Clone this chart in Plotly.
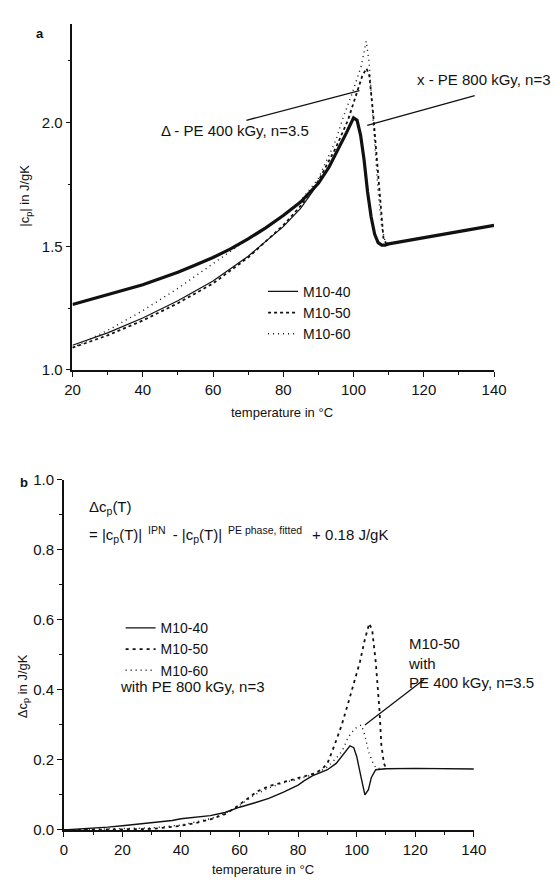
import plotly.graph_objects as go

W, H = 560, 888

def px(x):
    return x / W

def py(y):
    return 1 - y / H

# ---------------- panel a data ----------------
t_a40 = [20, 25, 30, 35, 40, 45, 50, 55, 60, 65, 70, 75, 80, 85, 90, 93, 96, 98, 100, 101, 102, 103,
         104, 105, 106, 107, 108, 109, 110, 115, 120, 125, 130, 135, 140]
cp_a40 = [1.265, 1.285, 1.305, 1.325, 1.345, 1.37, 1.395, 1.425, 1.455, 1.49, 1.53, 1.575, 1.625, 1.68,
          1.755, 1.82, 1.90, 1.96, 2.02, 2.01, 1.95, 1.85, 1.72, 1.62, 1.55, 1.515, 1.505, 1.505, 1.51,
          1.522, 1.535, 1.548, 1.56, 1.572, 1.585]

t_afit = [20, 30, 40, 50, 60, 70, 80, 85, 90]
cp_afit = [1.10, 1.15, 1.21, 1.28, 1.36, 1.46, 1.58, 1.655, 1.755]

t_a50 = [20, 30, 40, 50, 60, 70, 80, 85, 90, 95, 98.4, 101, 102.5, 103.7, 104.5, 105.5, 106.6, 107.7,
         108.5, 109.5, 110]
cp_a50 = [1.09, 1.14, 1.20, 1.27, 1.35, 1.455, 1.585, 1.665, 1.765, 1.90, 2.01, 2.13, 2.19, 2.22, 2.19,
          2.05, 1.85, 1.65, 1.535, 1.505, 1.51]

t_a60 = [20, 30, 40, 50, 60, 70, 80, 85, 90, 95, 97, 99.5, 102.2, 103.6, 104.4, 105, 106, 107, 108,
         109, 110]
cp_a60 = [1.09, 1.16, 1.24, 1.33, 1.43, 1.53, 1.625, 1.685, 1.775, 1.93, 2.02, 2.115, 2.23, 2.33, 2.25,
          2.12, 1.90, 1.72, 1.58, 1.52, 1.51]

# ---------------- panel b data ----------------
t_b40 = [0, 5, 10, 15, 20, 25, 30, 37, 40, 45, 50, 55, 60, 65, 70, 75, 80, 82, 85, 88, 90, 93, 95, 97.7,
         99, 100, 101.5, 102.8, 104, 105, 106.5, 110, 120, 130, 140]
dcp_b40 = [0, 0.002, 0.004, 0.008, 0.012, 0.016, 0.02, 0.027, 0.032, 0.036, 0.041, 0.05, 0.065, 0.077,
           0.09, 0.108, 0.128, 0.14, 0.155, 0.165, 0.172, 0.19, 0.21, 0.24, 0.235, 0.21, 0.15, 0.10,
           0.115, 0.15, 0.172, 0.175, 0.176, 0.175, 0.174]

t_b50 = [0, 10, 20, 30, 40, 45, 50, 55, 58, 62, 66, 70, 75, 80, 85, 88, 90, 92.1, 94.9, 97.7, 99.5,
         101.1, 102.8, 104.3, 105.3, 106.5, 107.8, 108.4, 109.3, 110]
dcp_b50 = [0.0, 0.0, 0.002, 0.003, 0.012, 0.02, 0.03, 0.045, 0.06, 0.085, 0.11, 0.125, 0.137, 0.147,
           0.16, 0.172, 0.19, 0.235, 0.30, 0.38, 0.43, 0.48, 0.545, 0.59, 0.57, 0.48, 0.34, 0.244, 0.19,
           0.176]

t_b60 = [0, 10, 20, 30, 40, 50, 55, 60, 65, 70, 75, 80, 85, 88, 90, 93, 95, 97.1, 99.4, 101.6, 102.8,
         104, 105.6, 106.7, 110]
dcp_b60 = [0, 0.001, 0.004, 0.006, 0.014, 0.032, 0.047, 0.07, 0.1, 0.12, 0.135, 0.145, 0.158, 0.17,
           0.18, 0.205, 0.225, 0.265, 0.29, 0.30, 0.27, 0.225, 0.19, 0.176, 0.175]

FONT = "Liberation Sans, Arial, sans-serif"
INK = "#111111"
TXT = 15

fig = go.Figure()

# panel a traces
fig.add_trace(go.Scatter(x=t_a40, y=cp_a40, mode="lines", name="M10-40", showlegend=False,
                         line=dict(color=INK, width=3.2), xaxis="x", yaxis="y"))
fig.add_trace(go.Scatter(x=t_afit, y=cp_afit, mode="lines", name="M10-40", legend="legend",
                         line=dict(color=INK, width=1.2), xaxis="x", yaxis="y"))
fig.add_trace(go.Scatter(x=t_a50, y=cp_a50, mode="lines", name="M10-50", legend="legend",
                         line=dict(color=INK, width=1.8, dash="3px,3px"), xaxis="x", yaxis="y"))
fig.add_trace(go.Scatter(x=t_a60, y=cp_a60, mode="lines", name="M10-60", legend="legend",
                         line=dict(color=INK, width=1.4, dash="1px,4px"), xaxis="x", yaxis="y"))

# panel b traces
fig.add_trace(go.Scatter(x=t_b40, y=dcp_b40, mode="lines", name="M10-40", legend="legend2",
                         line=dict(color=INK, width=1.4), xaxis="x2", yaxis="y2"))
fig.add_trace(go.Scatter(x=t_b50, y=dcp_b50, mode="lines", name="M10-50", legend="legend2",
                         line=dict(color=INK, width=1.8, dash="3px,4px"), xaxis="x2", yaxis="y2"))
fig.add_trace(go.Scatter(x=t_b60, y=dcp_b60, mode="lines", name="M10-60", legend="legend2",
                         line=dict(color=INK, width=1.4, dash="1px,4px"), xaxis="x2", yaxis="y2"))

axis_common = dict(showline=True, linecolor=INK, linewidth=1.6, ticks="outside", ticklen=5,
                   tickwidth=1.4, tickcolor=INK, showgrid=False, zeroline=False,
                   tickfont=dict(family=FONT, size=TXT, color=INK))

def minor(d):
    return dict(dtick=d, ticks="outside", ticklen=3, tickwidth=1, tickcolor=INK)

# panel a axes (pixel frame)
xa_l, xa_r = 67, 505
ya_b, ya_t = 368, 15
fig.update_layout(
    xaxis=dict(domain=[px(xa_l), px(xa_r)], range=[20, 140], tick0=20, dtick=20, anchor="y",
               minor=minor(10), **axis_common),
    yaxis=dict(domain=[py(ya_b), py(ya_t)], range=[1.0, 1.0 + (ya_b - ya_t) / 252], tick0=1.0, dtick=0.5,
               tickformat=".1f", anchor="x", minor=minor(0.25), **axis_common),
)

# panel b axes (pixel frame)
xb_l, xb_r = 58, 484
yb_b, yb_t = 837, 480
fig.update_layout(
    xaxis2=dict(domain=[px(xb_l), px(xb_r)], range=[0, 140], tick0=0, dtick=20, anchor="y2",
                minor=minor(10), **axis_common),
    yaxis2=dict(domain=[py(yb_b), py(yb_t)], range=[0, 1.0], tick0=0, dtick=0.2, tickformat=".1f",
                anchor="x2", minor=minor(0.1), **axis_common),
)

legend_style = dict(font=dict(family=FONT, size=14, color=INK), bgcolor="rgba(0,0,0,0)",
                    borderwidth=0, tracegroupgap=0, itemwidth=30, xanchor="left", yanchor="top")

fig.update_layout(
    width=W, height=H,
    margin=dict(l=0, r=0, t=0, b=0),
    paper_bgcolor="white", plot_bgcolor="white",
    showlegend=True,
    legend=dict(x=px(265), y=py(272), **legend_style),
    legend2=dict(x=px(117), y=py(615), **legend_style),
    font=dict(family=FONT, size=TXT, color=INK),
)

SP = "\u00a0"
formula = ("= |c<sub>p</sub>(T)|<sup>" + SP * 2 + "IPN" + SP + "</sup> - |c<sub>p</sub>(T)|<sup>" + SP * 2
           + "PE phase," + SP + "fitted" + SP * 2 + "</sup> + 0.18 J/gK")

def pa(text, x, y, size=13, angle=0):
    return dict(text=text, x=px(x), y=py(y), xref="paper", yref="paper", showarrow=False,
                xanchor="center", yanchor="middle", textangle=angle, font=dict(size=size))

annots = [
    # panel labels
    pa("<b>a</b>", 33, 25),
    pa("<b>b</b>", 17, 483),
    # axis titles
    pa("temperature in °C", 285, 411),
    pa("temperature in °C", 265, 877),
    pa("|c<sub>p</sub>| in J/gK", 18, 190, angle=-90),
    pa("Δc<sub>p</sub> in J/gK", 16, 690, angle=-90),
    # panel a labels
    dict(text="Δ - PE 400 kGy, n=3.5", x=66.4, y=1.968, xref="x", yref="y", showarrow=False,
         xanchor="center", yanchor="middle", font=dict(size=TXT)),
    dict(text="x - PE 800 kGy, n=3", x=137, y=2.175, xref="x", yref="y", showarrow=False,
         xanchor="center", yanchor="middle", font=dict(size=TXT)),
    # panel b labels
    dict(text="Δc<sub>p</sub>(T)", x=8.0, y=0.92, xref="x2", yref="y2", xanchor="left",
         yanchor="middle", showarrow=False, font=dict(size=TXT)),
    dict(text=formula, x=8.0, y=0.845, xref="x2", yref="y2", xanchor="left", yanchor="middle",
         showarrow=False, font=dict(size=TXT)),
    dict(text="with PE 800 kGy, n=3", x=18.5, y=0.41, xref="x2", yref="y2", xanchor="left",
         yanchor="middle", showarrow=False, font=dict(size=TXT)),
    dict(text="M10-50<br>with<br>PE 400 kGy, n=3.5", x=117, y=0.478, xref="x2", yref="y2",
         xanchor="left", yanchor="middle", align="left", showarrow=False, font=dict(size=TXT)),
]
fig.update_layout(annotations=annots)

shapes = [
    dict(type="line", xref="x", yref="y", x0=69.5, y0=2.01, x1=101.7, y1=2.13,
         line=dict(color=INK, width=1.3)),
    dict(type="line", xref="x", yref="y", x0=134.5, y0=2.11, x1=103.9, y1=1.99,
         line=dict(color=INK, width=1.3)),
    dict(type="line", xref="x2", yref="y2", x0=123.0, y0=0.43, x1=102.8, y1=0.30,
         line=dict(color=INK, width=1.3)),
]
fig.update_layout(shapes=shapes)

fig.write_html("out.html")
